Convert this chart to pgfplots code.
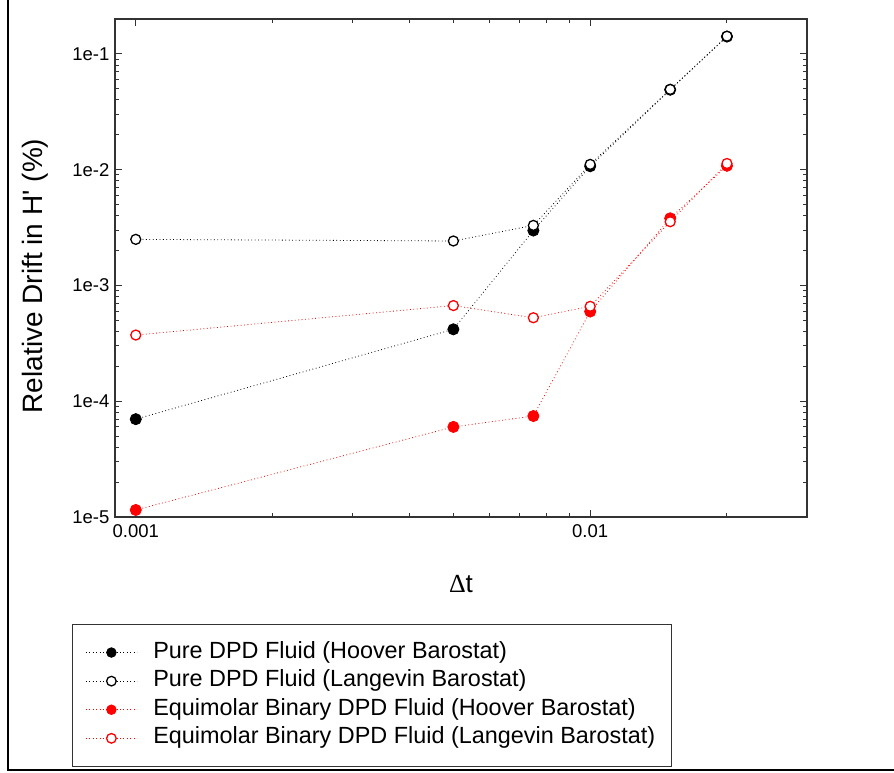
\documentclass[border=0pt]{standalone}
\usepackage{pgfplots}
\pgfplotsset{compat=1.18}
\usepackage{fontspec}
\setmainfont{Liberation Sans}
\newfontfamily\seriffont{Liberation Serif}
\newfontfamily\rawsans{Liberation Sans}[Ligatures=TeXOff]

\begin{document}
\begin{tikzpicture}
\useasboundingbox (0pt,0pt) rectangle (894pt,773pt);
% page frame (left and bottom rules)
\draw[line width=2pt] (8pt,773pt) -- (8pt,2.5pt) -- (894pt,2.5pt);
\begin{axis}[
  at={(115pt,256pt)}, anchor=south west,
  scale only axis, width=692pt, height=498pt,
  xmode=log, ymode=log,
  xmin=0.0009, xmax=0.03, ymin=1e-5, ymax=0.2,
  xtick={0.001,0.01}, xticklabels={0.001,0.01},
  minor xtick={0.002,0.003,0.004,0.005,0.006,0.007,0.008,0.009,0.02},
  ytick={1e-5,1e-4,1e-3,1e-2,1e-1},
  yticklabels={1e-5,1e-4,1e-3,1e-2,1e-1},
  minor ytick={2e-5,3e-5,4e-5,5e-5,6e-5,7e-5,8e-5,9e-5,
               2e-4,3e-4,4e-4,5e-4,6e-4,7e-4,8e-4,9e-4,
               2e-3,3e-3,4e-3,5e-3,6e-3,7e-3,8e-3,9e-3,
               2e-2,3e-2,4e-2,5e-2,6e-2,7e-2,8e-2,9e-2},
  xtick pos=both, ytick pos=both,
  xticklabel pos=lower, yticklabel pos=left,
  tick align=inside,
  major tick length=7pt, minor tick length=4pt,
  tick style={line width=1pt, black!80},
  axis line style={line width=1.5pt, black!80},
  ticklabel style={font=\fontsize{18.5}{20}\selectfont},
  xticklabel style={yshift=-4pt},
  yticklabel style={xshift=-2pt},
  xlabel={{\seriffont Δ}t},
  xlabel style={font=\fontsize{26}{28}\selectfont, at={(axis description cs:0.5,-0.1345)}, anchor=center},
  ylabel={Relative Drift in H{\rawsans '} (\%)},
  ylabel style={font=\fontsize{28}{30}\selectfont, at={(axis description cs:-0.1156,0.484)}, anchor=center},
  legend style={at={(axis description cs:-0.0621,-0.2149)}, anchor=north west,
    draw=black!80, line width=1pt, fill=white,
    font=\fontsize{23.4}{26}\selectfont,
    inner xsep=13pt, inner ysep=16.5pt, row sep=5.6pt, column sep=13pt,
    nodes={inner ysep=0pt, inner xsep=3pt, text height=17pt, text depth=6pt}},
  legend cell align=left,
  legend image code/.code={%
    \draw[#1, mark repeat=2, mark phase=2, mark size=4.8pt]
      plot coordinates {(0pt,0pt) (25.5pt,0pt) (51pt,0pt)};},
]
\addplot[black, line width=0.8pt, dash pattern=on 0.8pt off 2.6pt,
  mark=*, mark size=5.6pt, mark options={solid, fill=black, draw=black}]
  coordinates {(0.001,7.0e-5) (0.005,4.18e-4) (0.0075,2.98e-3) (0.01,1.07e-2) (0.015,4.9e-2) (0.02,0.141)};
\addlegendentry{Pure DPD Fluid (Hoover Barostat)}
\addplot[black, line width=0.8pt, dash pattern=on 0.8pt off 2.6pt,
  mark=*, mark size=5.0pt, mark options={solid, fill=white, draw=black, line width=1.3pt}]
  coordinates {(0.001,2.5e-3) (0.005,2.42e-3) (0.0075,3.3e-3) (0.01,1.11e-2) (0.015,4.93e-2) (0.02,0.142)};
\addlegendentry{Pure DPD Fluid (Langevin Barostat)}
\addplot[red, line width=0.8pt, dash pattern=on 0.8pt off 2.6pt,
  mark=*, mark size=5.6pt, mark options={solid, fill=red, draw=red}]
  coordinates {(0.001,1.15e-5) (0.005,6.0e-5) (0.0075,7.45e-5) (0.01,5.95e-4) (0.015,3.8e-3) (0.02,1.08e-2)};
\addlegendentry{Equimolar Binary DPD Fluid (Hoover Barostat)}
\addplot[red, line width=0.8pt, dash pattern=on 0.8pt off 2.6pt,
  mark=*, mark size=5.0pt, mark options={solid, fill=white, draw=red, line width=1.3pt}]
  coordinates {(0.001,3.73e-4) (0.005,6.7e-4) (0.0075,5.26e-4) (0.01,6.6e-4) (0.015,3.55e-3) (0.02,1.13e-2)};
\addlegendentry{Equimolar Binary DPD Fluid (Langevin Barostat)}
\end{axis}
\end{tikzpicture}
\end{document}
